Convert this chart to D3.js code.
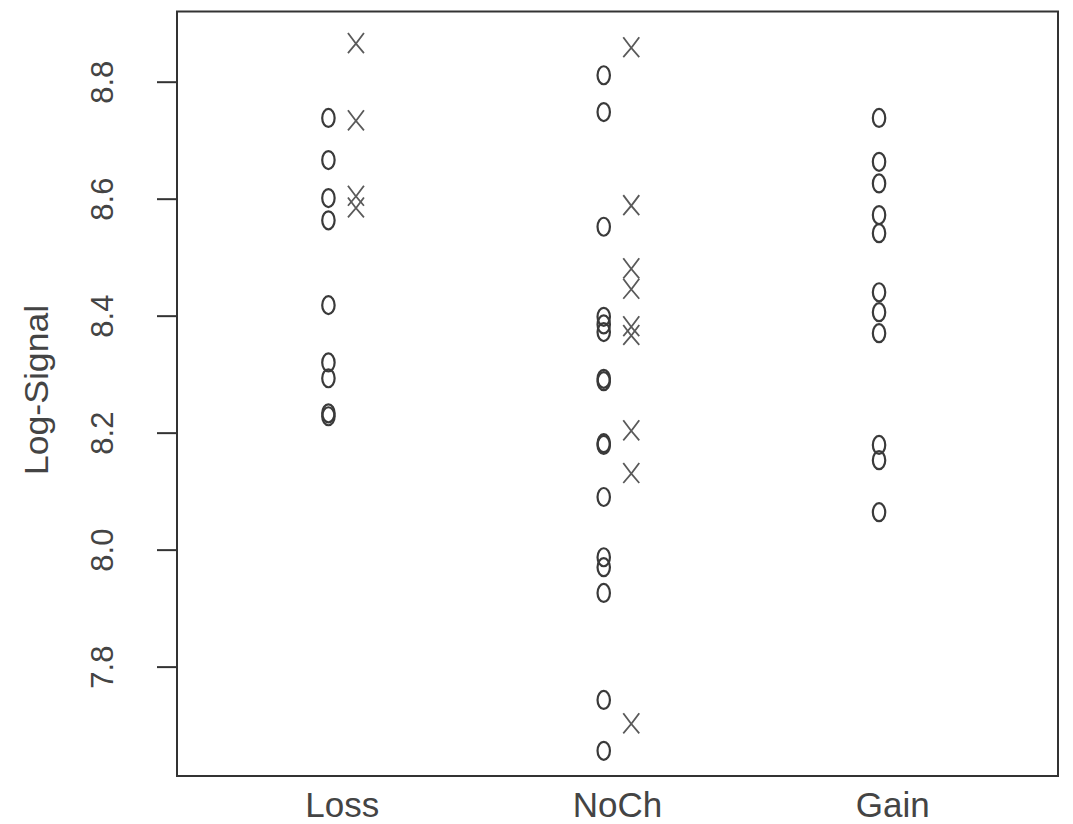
<!DOCTYPE html>
<html>
<head>
<meta charset="utf-8">
<script src="https://cdn.jsdelivr.net/npm/d3@7/dist/d3.min.js"></script>
<style>
  html, body { margin: 0; padding: 0; background: #fff; }
  svg text { font-family: "Liberation Sans", Arial, sans-serif; fill: #444; }
</style>
</head>
<body>
<svg id="chart" width="1073" height="824"></svg>
<script>
// Groups along the x axis
const categories = ["Loss", "NoCh", "Gain"];

// Log-signal values per group: "o" points and "x" points
const lossCircles = [8.738, 8.666, 8.601, 8.563, 8.418, 8.320, 8.293, 8.233, 8.228];
const lossCrosses = [8.866, 8.734, 8.605, 8.585];

const nochCircles = [8.811, 8.748, 8.552, 8.398, 8.385, 8.372, 8.292, 8.288,
                     8.182, 8.179, 8.090, 7.987, 7.970, 7.926, 7.743, 7.656];
const nochCrosses = [8.859, 8.589, 8.481, 8.446, 8.382, 8.367, 8.204, 8.131, 7.703];

const gainCircles = [8.738, 8.663, 8.626, 8.572, 8.541, 8.440, 8.406, 8.370, 8.179, 8.153, 8.064];
const gainCrosses = [];

const yTicks = [7.8, 8.0, 8.2, 8.4, 8.6, 8.8];
const yTitle = "Log-Signal";

const circleSets = [lossCircles, nochCircles, gainCircles];
const crossSets = [lossCrosses, nochCrosses, gainCrosses];

const svg = d3.select("#chart");
const plot = { left: 177, right: 1058, top: 11.5, bottom: 776 };

const x = d3.scaleLinear().domain([0.4, 3.6]).range([plot.left, plot.right]);
const y = d3.scaleLinear().domain([7.613, 8.92]).range([plot.bottom, plot.top]);

const ink = "#333";

// Points
const circlePts = circleSets.flatMap((vals, i) => vals.map(v => ({ g: i + 1, v })));
const crossPts = crossSets.flatMap((vals, i) => vals.map(v => ({ g: i + 1, v })));

svg.append("g").selectAll("ellipse")
  .data(circlePts)
  .join("ellipse")
  .attr("cx", d => x(d.g - 0.05))
  .attr("cy", d => y(d.v))
  .attr("rx", 6.2)
  .attr("ry", 9)
  .attr("fill", "none")
  .attr("stroke", "#3a3a3a")
  .attr("stroke-width", 2.2);

svg.append("g").selectAll("path")
  .data(crossPts)
  .join("path")
  .attr("transform", d => `translate(${x(d.g + 0.05)},${y(d.v)})`)
  .attr("d", "M-8,-10 Q-1,0 8,10 M8,-10 Q1,0 -8,10")
  .attr("fill", "none")
  .attr("stroke", "#5a5a5a")
  .attr("stroke-width", 1.8);

// Frame
svg.append("rect")
  .attr("x", plot.left).attr("y", plot.top)
  .attr("width", plot.right - plot.left)
  .attr("height", plot.bottom - plot.top)
  .attr("fill", "none")
  .attr("stroke", ink)
  .attr("stroke-width", 2);

// Y axis: ticks outward, labels rotated
const yAxis = d3.axisLeft(y).tickValues(yTicks).tickFormat(d3.format(".1f"))
  .tickSize(20).tickPadding(44);
const ya = svg.append("g").attr("transform", `translate(${plot.left},0)`).call(yAxis);
ya.select(".domain").remove();
ya.selectAll(".tick line").attr("stroke", ink).attr("stroke-width", 2);
ya.selectAll(".tick text")
  .attr("x", null).attr("dy", null)
  .attr("text-anchor", "middle")
  .attr("font-size", 31)
  .attr("fill", "#444")
  .attr("transform", "translate(-64,0) rotate(-90)");

// Category labels under the frame
svg.append("g").selectAll("text")
  .data(categories)
  .join("text")
  .attr("x", (d, i) => x(i + 1))
  .attr("y", 817)
  .attr("text-anchor", "middle")
  .attr("font-size", 35)
  .text(d => d);

// Y title
svg.append("text")
  .attr("transform", "translate(48,390) rotate(-90) scale(1.08,1)")
  .attr("text-anchor", "middle")
  .attr("font-size", 33)
  .text(yTitle);
</script>
</body>
</html>
